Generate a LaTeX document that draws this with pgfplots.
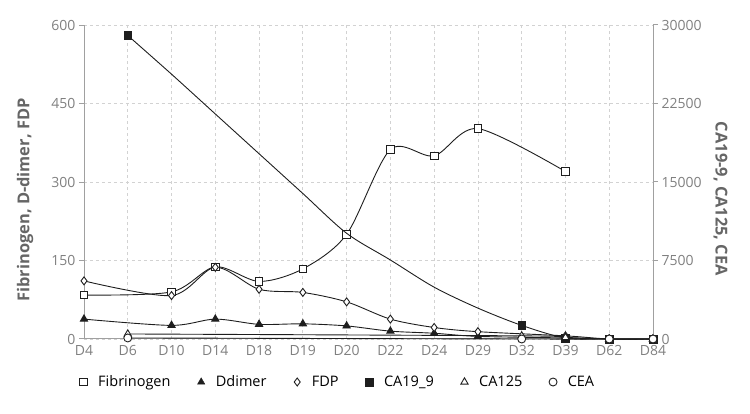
\documentclass[border=0pt]{standalone}
\usepackage{fontspec}
\setmainfont{Open Sans}
\usepackage{pgfplots}
\pgfplotsset{compat=1.18}

\definecolor{axisgray}{HTML}{A0A0A0}
\definecolor{labelgray}{HTML}{808080}
\definecolor{titlegray}{HTML}{666666}
\definecolor{gridgray}{HTML}{D2D2D2}
\definecolor{ink}{HTML}{1E1E1E}

\pgfplotsset{
  frame/.style={
    scale only axis, width=569bp, height=314bp,
    at={(84bp,75bp)}, anchor=south west,
    xmin=0, xmax=13,
    axis line style={draw=axisgray, line width=1bp},
    tick label style={font=\fontsize{14bp}{16bp}\selectfont, text=labelgray},
    /pgf/number format/assume math mode=true,
    /pgf/number format/set thousands separator={},
    scaled y ticks=false,
    tick align=outside, major tick length=5bp,
    every tick/.style={draw=axisgray, line width=1bp},
    ylabel style={font=\bfseries\fontsize{16.4bp}{19bp}\selectfont, text=titlegray},
    clip=false,
  },
  fib/.style={mark=square*, mark size=3.8bp, mark options={fill=white, draw=ink, line width=0.9bp, solid}},
  ddi/.style={mark=triangle*, mark size=4.2bp, mark options={fill=ink, draw=ink, solid}},
  fdp/.style={mark=diamond*, mark size=4bp, mark options={fill=white, draw=ink, line width=0.9bp, solid}},
  ca199/.style={mark=square*, mark size=3.8bp, mark options={fill=ink, draw=ink, solid}},
  ca125/.style={mark=triangle*, mark size=4.2bp, mark options={fill=white, draw=ink, line width=0.9bp, solid}},
  cea/.style={mark=*, mark size=4bp, mark options={fill=white, draw=ink, line width=0.9bp, solid}},
  series/.style={draw=ink, line width=0.9bp, smooth},
}

\begin{document}
\begin{tikzpicture}
\useasboundingbox (0,0) rectangle (750bp,414bp);

% left axis: coagulation markers
\begin{axis}[frame,
  axis x line*=bottom, axis y line*=left,
  ymin=0, ymax=600, ytick={0,150,300,450,600},
  xtick={0,...,13},
  xticklabels={D4,D6,D10,D14,D18,D19,D20,D22,D24,D29,D32,D39,D62,D84},
  x tick style={draw=none},
  xticklabel style={yshift=2bp},
  xmajorgrids, ymajorgrids,
  grid style={dashed, gridgray, line width=0.8bp},
  ylabel={Fibrinogen, D-dimer, FDP},
  ylabel style={at={(axis description cs:-0.1037,0.443)}, anchor=center},
]
\addplot[series, fib] coordinates {
  (0,84) (2,90) (3,138) (4,110) (5,134) (6,200) (7,362) (8,350) (9,402) (11,320)};
\addplot[series, ddi] coordinates {
  (0,38) (2,26) (3,38) (4,28) (5,29) (6,25) (7,15) (8,11) (9,5) (11,2) (12,0) (13,0)};
\addplot[series, fdp] coordinates {
  (0,111) (2,83) (3,137) (4,95) (5,89) (6,71) (7,38) (8,22) (9,14) (11,6) (12,0) (13,0)};
\end{axis}

% right axis: tumour markers
\begin{axis}[frame,
  axis x line=none, axis y line*=right,
  ymin=0, ymax=30000, ytick={0,7500,15000,22500,30000},
  ylabel={CA19-9, CA125, CEA},
  ylabel style={at={(axis description cs:1.1186,0.446)}, anchor=center, rotate=180},
  legend columns=6,
  legend style={draw=none, fill=none,
    at={(axis description cs:0.4455,-0.137)}, anchor=center,
    font=\fontsize{14.5bp}{16bp}\selectfont,
    /tikz/every even column/.append style={column sep=24bp}},
  legend image code/.code={%
    \draw[#1] plot[only marks] coordinates {(0bp,0bp)};
    \path (-4.5bp,0bp) (12.5bp,0bp);},
]
\addlegendimage{fib}
\addlegendimage{ddi}
\addlegendimage{fdp}
\addlegendimage{ca199}
\addlegendimage{ca125}
\addlegendimage{cea}

% CA19-9 trace at each day
\addplot[series, forget plot] coordinates {
  (1,29000) (2,25300) (3,21500) (4,17700) (5,13900) (6,10100) (7,7550)
  (8,4950) (9,2950) (10,1300) (11,100) (12,0) (13,0)};
\addplot[only marks, ca199, forget plot] coordinates {
  (1,29000) (10,1300) (11,100) (12,0) (13,0)};
\addplot[series, ca125, forget plot] coordinates {
  (1,480) (10,300) (11,150) (12,0) (13,0)};
\addplot[series, cea, forget plot] coordinates {
  (1,100) (10,0) (12,0) (13,0)};

\legend{Fibrinogen, Ddimer, FDP, CA19\_9, CA125, CEA}
\end{axis}
\end{tikzpicture}
\end{document}
